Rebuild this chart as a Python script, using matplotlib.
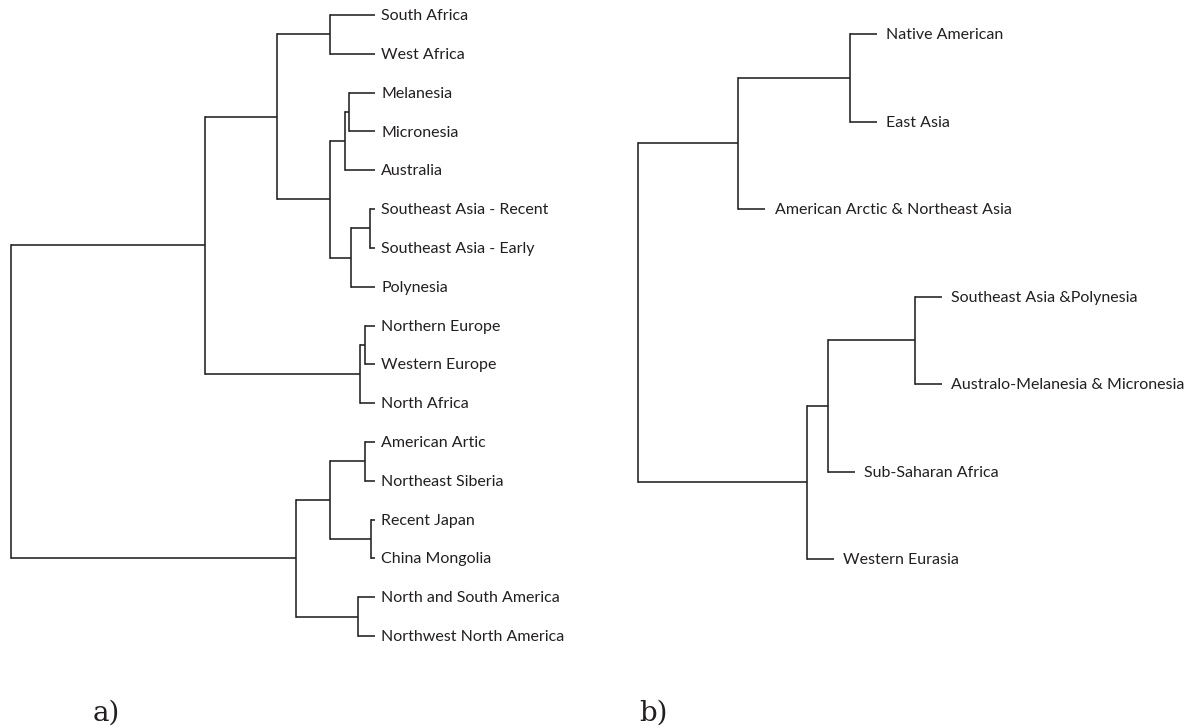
import matplotlib
matplotlib.use("Agg")
import matplotlib.pyplot as plt

# ---- Tree a: distance-scaled dendrogram (all tips aligned) ----
leaves_a = [
    "South Africa", "West Africa", "Melanesia", "Micronesia", "Australia",
    "Southeast Asia - Recent", "Southeast Asia - Early", "Polynesia",
    "Northern Europe", "Western Europe", "North Africa",
    "American Artic", "Northeast Siberia", "Recent Japan", "China Mongolia",
    "North and South America", "Northwest North America",
]
# merges: (child, child); new clusters are numbered after the leaves
merges_a = [
    (0, 1), (2, 3), (18, 4), (5, 6), (20, 7), (19, 21), (17, 22),
    (8, 9), (24, 10), (23, 25),
    (11, 12), (13, 14), (27, 28), (15, 16), (29, 30),
    (26, 31),
]
heights_a = [0.45, 0.26, 0.30, 0.05, 0.24, 0.45, 0.98,
             0.10, 0.15, 1.70,
             0.10, 0.04, 0.45, 0.17, 0.79,
             3.64]

# ---- Tree b: cladogram, node depth measured from the root ----
leaves_b = [
    "Native American", "East Asia", "American Arctic & Northeast Asia",
    "Southeast Asia &Polynesia", "Australo-Melanesia & Micronesia",
    "Sub-Saharan Africa", "Western Eurasia",
]
merges_b = [(0, 1), (7, 2), (3, 4), (9, 5), (10, 6), (8, 11)]
depths_b = [2.11, 1.00, 2.76, 1.89, 1.68, 0.00]

panel_labels = ["a)", "b)"]

LINE = "#231f20"
LW = 1.15
FONT = "Lato"
FS = 11.5
TIP_STUB = 0.27

W, H = 1201, 728
fig = plt.figure(figsize=(W / 100, H / 100), dpi=100)


def px_axes(left, right, top, bottom):
    return fig.add_axes([left / W, 1 - bottom / H, (right - left) / W, (bottom - top) / H])


def node_positions(n_leaves, merges, xs_internal, leaf_x):
    y = {i: float(i) for i in range(n_leaves)}
    x = {}
    for k, (a, b) in enumerate(merges):
        nid = n_leaves + k
        y[nid] = (y[a] + y[b]) / 2.0
        x[nid] = xs_internal[k]
    for k, (a, b) in enumerate(merges):
        nid = n_leaves + k
        for c in (a, b):
            if c < n_leaves:
                x[c] = leaf_x(x[nid])
    return x, y


def draw_tree(ax, leaves, merges, x, y, text_pad):
    n = len(leaves)
    for k, (a, b) in enumerate(merges):
        nid = n + k
        ax.plot([x[nid], x[nid]], [y[a], y[b]], color=LINE, lw=LW,
                solid_capstyle="projecting", clip_on=False)
        for c in (a, b):
            ax.plot([x[nid], x[c]], [y[c], y[c]], color=LINE, lw=LW,
                    solid_capstyle="butt", clip_on=False)
    for i, name in enumerate(leaves):
        ax.annotate(name, (x[i], y[i]), xytext=(text_pad, -0.8), textcoords="offset points",
                    ha="left", va="center", fontsize=FS, family=FONT, color=LINE,
                    annotation_clip=False)
    ax.set_axis_off()


# panel a
ax_a = px_axes(11, 375, 15, 636)
xa, ya = node_positions(len(leaves_a), merges_a, heights_a, lambda px: 0.0)
draw_tree(ax_a, leaves_a, merges_a, xa, ya, text_pad=4.5)
ax_a.set_xlim(max(heights_a), 0)
ax_a.set_ylim(len(leaves_a) - 1, 0)

# panel b
ax_b = px_axes(638.3, 941.7, 34, 559)
xb, yb = node_positions(len(leaves_b), merges_b, depths_b, lambda px: px + TIP_STUB)
draw_tree(ax_b, leaves_b, merges_b, xb, yb, text_pad=7.0)
ax_b.set_xlim(0, max(depths_b) + TIP_STUB)
ax_b.set_ylim(len(leaves_b) - 1, 0)

# panel letters
for label, left in zip(panel_labels, (93, 639)):
    fig.text(left / W, 1 - 721 / H, label, fontsize=20, family="DejaVu Serif",
             ha="left", va="baseline", color=LINE)

fig.savefig("out.png", dpi=100, facecolor="white")
